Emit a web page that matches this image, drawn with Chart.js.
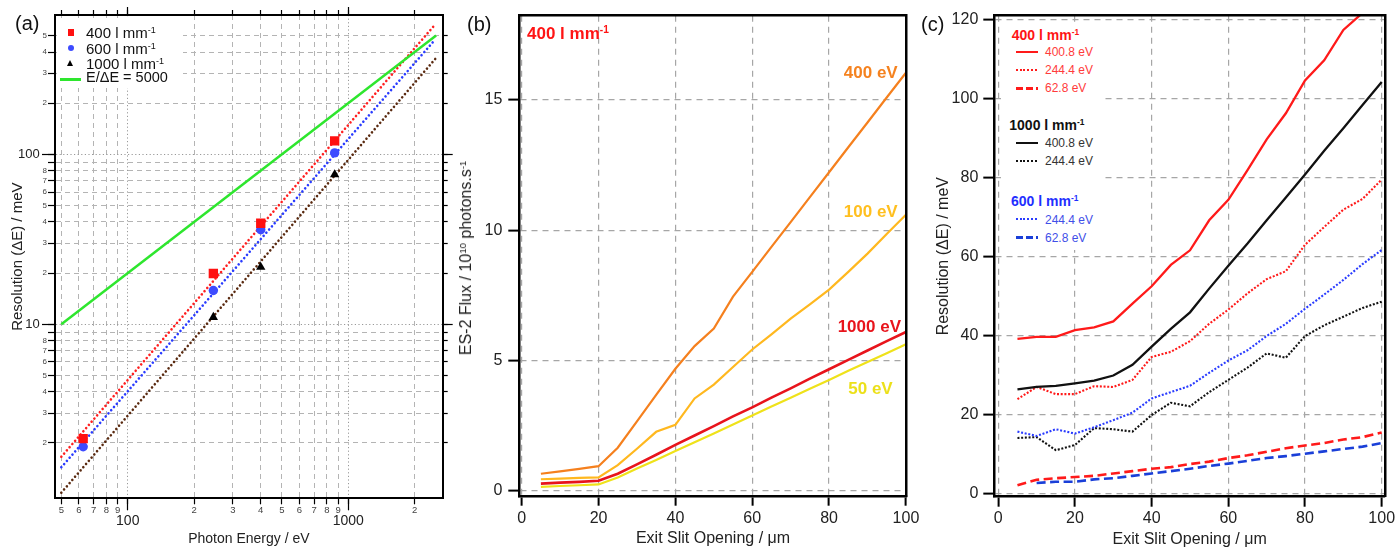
<!DOCTYPE html>
<html><head><meta charset="utf-8">
<script src="https://cdn.jsdelivr.net/npm/chart.js@4.4.0/dist/chart.umd.min.js"></script>
<style>
html,body{margin:0;padding:0;background:#fff;}
body{width:1397px;height:549px;position:relative;overflow:hidden;font-family:"Liberation Sans",Arial,Helvetica,sans-serif;}
canvas{position:absolute;top:0;}
.t{position:absolute;white-space:nowrap;line-height:1;}
.b{font-weight:bold;}
.sup{font-size:60%;position:relative;top:-0.55em;}
.box{position:absolute;background:#fff;}
.g{position:absolute;}
.rot{position:absolute;white-space:nowrap;line-height:1;transform:translate(-50%,-50%) rotate(-90deg);}
</style></head><body>
<canvas id="ca" width="470" height="549" style="left:0px"></canvas>
<canvas id="cb" width="475" height="549" style="left:455px"></canvas>
<canvas id="cc" width="480" height="549" style="left:930px"></canvas>

<!-- panel labels -->
<div class="t" style="left:15px;top:13px;font-size:20px;color:#111">(a)</div>
<div class="t" style="left:467px;top:14px;font-size:20px;color:#111">(b)</div>
<div class="t" style="left:921px;top:14px;font-size:20px;color:#111">(c)</div>

<!-- y axis title (b) with real superscripts -->
<div class="rot" style="left:466px;top:258px;font-size:16px;color:#222">ES-2 Flux / 10<span class="sup">10</span> photons.s<span class="sup">-1</span></div>

<!-- legend (a) -->
<div class="box" style="left:57px;top:18px;width:126px;height:70px;"></div>
<div class="g" style="left:67.7px;top:29px;width:6.6px;height:6.6px;background:#ff1010"></div>
<div class="g" style="left:67.8px;top:45.1px;width:6.4px;height:6.4px;border-radius:50%;background:#3d4bff"></div>
<div class="g" style="left:67.4px;top:59.8px;width:0;height:0;border-left:3.6px solid transparent;border-right:3.6px solid transparent;border-bottom:6.6px solid #000"></div>
<div class="g" style="left:60px;top:78px;width:21px;height:2.5px;background:#2ee62e"></div>
<div class="t" style="left:86px;top:25px;font-size:15px;color:#111">400 l mm<span class="sup">-1</span></div>
<div class="t" style="left:86px;top:41px;font-size:15px;color:#111">600 l mm<span class="sup">-1</span></div>
<div class="t" style="left:86px;top:56px;font-size:15px;color:#111">1000 l mm<span class="sup">-1</span></div>
<div class="t" style="left:86px;top:70.2px;font-size:14.5px;color:#111">E/ΔE = 5000</div>

<!-- annotations (b) -->
<div class="t b" style="left:527px;top:25px;font-size:17px;color:#ff1414">400 l mm<span class="sup">-1</span></div>
<div class="t b" style="right:499.3px;top:64.2px;font-size:17px;color:#f5821f">400 eV</div>
<div class="t b" style="right:499.3px;top:203px;font-size:17px;color:#ffbf1f">100 eV</div>
<div class="t b" style="right:496px;top:318px;font-size:17px;color:#e8141c">1000 eV</div>
<div class="t b" style="right:504.3px;top:379.8px;font-size:17px;color:#ece01a">50 eV</div>

<!-- legend (c) -->
<div class="box" style="left:1001px;top:24px;width:104px;height:226px;"></div>
<div class="t b" style="left:1011.7px;top:28.1px;font-size:14px;color:#ff1414">400 l mm<span class="sup">-1</span></div>
<div class="g" style="left:1016px;top:50.5px;width:22px;height:2.3px;background:#ff1a1a"></div>
<div class="t" style="left:1045px;top:45.8px;font-size:12px;color:#ff3b3b">400.8 eV</div>
<div class="g" style="left:1016px;top:69px;width:22px;height:2.1px;background:repeating-linear-gradient(90deg,#ff1a1a 0 2px,transparent 2px 3.7px)"></div>
<div class="t" style="left:1045px;top:64.1px;font-size:12px;color:#ff3b3b">244.4 eV</div>
<div class="g" style="left:1016px;top:87px;width:22px;height:2.6px;background:repeating-linear-gradient(90deg,#ff1a1a 0 7px,transparent 7px 10px)"></div>
<div class="t" style="left:1045px;top:82.4px;font-size:12px;color:#ff3b3b">62.8 eV</div>

<div class="t b" style="left:1009.3px;top:118.1px;font-size:14px;color:#111">1000 l mm<span class="sup">-1</span></div>
<div class="g" style="left:1016px;top:141.5px;width:22px;height:2.3px;background:#111"></div>
<div class="t" style="left:1045px;top:136.8px;font-size:12px;color:#333">400.8 eV</div>
<div class="g" style="left:1016px;top:159.5px;width:22px;height:2.1px;background:repeating-linear-gradient(90deg,#111 0 2px,transparent 2px 3.7px)"></div>
<div class="t" style="left:1045px;top:154.6px;font-size:12px;color:#333">244.4 eV</div>

<div class="t b" style="left:1011px;top:193.9px;font-size:14px;color:#1f2fff">600 l mm<span class="sup">-1</span></div>
<div class="g" style="left:1016px;top:218.4px;width:22px;height:2.1px;background:repeating-linear-gradient(90deg,#2a3cff 0 2px,transparent 2px 3.7px)"></div>
<div class="t" style="left:1045px;top:213.5px;font-size:12px;color:#3f4fe8">244.4 eV</div>
<div class="g" style="left:1016px;top:236.4px;width:22px;height:2.6px;background:repeating-linear-gradient(90deg,#1a3fd8 0 7px,transparent 7px 10px)"></div>
<div class="t" style="left:1045px;top:231.8px;font-size:12px;color:#3f4fe8">62.8 eV</div>

<script>
// ---------- Panel (a): resolution vs photon energy (log-log) ----------
const A_E_400 = [62.8, 244.4, 400.8, 867];
const A_DE_400 = [2.12, 19.9, 39.3, 120];
const A_E_600 = [62.8, 244.4, 400.8, 867];
const A_DE_600 = [1.9, 15.8, 36, 102];
const A_E_1000 = [244.4, 400.8, 867];
const A_DE_1000 = [11.0, 21.7, 76];
const A_FIT_E = [50, 2480];
const A_FIT_400 = [1.66, 583];
const A_FIT_600 = [1.44, 475];
const A_FIT_1000 = [1.02, 365];
const A_RP_E = [50, 2500];
const A_RP_DE = [10, 500];
const A_X_RANGE = [46.8, 2678];
const A_Y_RANGE = [0.945, 661];
const A_X_TICKS = [50,60,70,80,90,100,200,300,400,500,600,700,800,900,1000,2000];
const A_X_LABELS = ['5','6','7','8','9','100','2','3','4','5','6','7','8','9','1000','2'];
const A_X_MAJOR = [100, 1000];
const A_Y_TICKS = [2,3,4,5,6,7,8,9,10,20,30,40,50,60,70,80,90,100,200,300,400,500];
const A_Y_LABELS = ['2','3','4','5','6','7','8','','10','2','3','4','5','6','7','8','','100','2','3','4','5'];
const A_Y_MAJOR = [10, 100];

// ---------- Panel (b): flux vs exit slit ----------
const B_SLIT = [5,10,15,20,25,30,35,40,45,50,55,60,65,70,75,80,85,90,95,100];
const B_400EV = [0.65,0.74,0.84,0.94,1.65,2.66,3.68,4.68,5.55,6.22,7.45,8.40,9.36,10.31,11.27,12.22,13.18,14.13,15.09,16.04];
const B_100EV = [0.44,0.46,0.49,0.51,0.98,1.61,2.26,2.53,3.54,4.07,4.75,5.42,6.0,6.6,7.15,7.72,8.4,9.1,9.85,10.59];
const B_1000EV = [0.27,0.31,0.34,0.38,0.65,1.01,1.38,1.76,2.12,2.48,2.85,3.2,3.57,3.93,4.3,4.66,5.02,5.38,5.74,6.09];
const B_50EV = [0.15,0.18,0.21,0.24,0.51,0.85,1.18,1.52,1.86,2.2,2.54,2.89,3.23,3.57,3.91,4.25,4.6,4.94,5.28,5.62];
const B_X_RANGE = [-0.62, 100.2];
const B_Y_RANGE = [-0.23, 18.23];
const B_X_TICKS = [0,20,40,60,80,100];
const B_X_LABELS = ['0','20','40','60','80','100'];
const B_Y_TICKS = [0,5,10,15];
const B_Y_LABELS = ['0','5','10','15'];

// ---------- Panel (c): resolution vs exit slit ----------
const C_SLIT = [5,10,15,20,25,30,35,40,45,50,55,60,65,70,75,80,85,90,95,100];
const C_400_4008 = [39.3,39.8,39.8,41.5,42.2,43.7,48.2,52.6,58,61.7,69.3,74.5,82,89.8,96.4,104.7,109.8,117.5,121.8,null];
const C_400_2444 = [24,27.1,25.3,25.3,27.3,27.1,28.9,34.7,36,38.7,43.1,46.7,50.8,54.4,56.4,63.1,67.6,72,74.7,79.6];
const C_400_628 = [2.2,3.6,4,4.3,4.6,5.2,5.8,6.4,6.8,7.6,8.2,9.1,9.8,10.7,11.6,12.3,12.9,13.8,14.4,15.6];
const C_1000_4008 = [26.5,27.1,27.4,28,28.7,30,32.7,37.3,41.8,46,52,57.8,63.4,69.3,75.1,80.9,86.9,92.6,98.5,104.3];
const C_1000_2444 = [14.2,14.4,11.1,12.4,16.7,16.4,15.8,20,23.1,22.2,25.8,28.9,32,35.6,34.5,40,42.7,44.9,47.1,48.7];
const C_600_2444 = [15.8,14.7,16.4,15.3,16.9,18.7,20.6,24.2,25.8,27.4,30.7,33.8,36.4,40,43.1,46.9,50.5,54.2,58.2,61.8];
const C_600_628 = [null,2.8,3.1,3.1,3.7,4,4.6,5.2,5.8,6.4,7.1,7.7,8.4,9.1,9.6,10.2,10.8,11.4,12,12.9];
const C_X_RANGE = [-1.04, 100.86];
const C_Y_RANGE = [-0.68, 121.1];
const C_X_TICKS = [0,20,40,60,80,100];
const C_X_LABELS = ['0','20','40','60','80','100'];
const C_Y_TICKS = [0,20,40,60,80,100,120];
const C_Y_LABELS = ['0','20','40','60','80','100','120'];

const FONT = '"Liberation Sans", Arial, Helvetica, sans-serif';
Chart.defaults.font.family = FONT;
Chart.defaults.color = '#222';

function pts(xs, ys){ return xs.map((x,i)=>({x:x, y:ys[i]})); }
function fixTicks(list){ return function(s){ s.ticks = list.map(v=>({value:v})); }; }
function fixW(w){ return function(s){ s.width = w; }; }
function fixH(h){ return function(s){ s.height = h; }; }
function isMaj(list){ return c => !!(c.tick && list.includes(c.tick.value)); }

const baseOpts = (padding) => ({
  responsive:false, animation:false, devicePixelRatio:1, events:[],
  layout:{padding:padding},
  plugins:{legend:{display:false}, tooltip:{enabled:false}}
});

// aux axis (no labels, only tick marks / border)
function auxAxis(type, pos, range, ticks, len, weight, border, bw){
  return {type:type, position:pos, bounds:'data', min:range[0], max:range[1], weight:weight,
    afterBuildTicks:fixTicks(ticks),
    afterFit:(pos==='top'||pos==='bottom')?fixH(0):fixW(0),
    grid:{display:len>0, drawOnChartArea:false, tickLength:len, tickColor:'#000', tickWidth:1.2},
    border:{display:border, color:'#000', width:bw, z:1},
    ticks:{display:false}};
}

// ---- chart (a)
const aMajX = isMaj(A_X_MAJOR), aMajY = isMaj(A_Y_MAJOR);
new Chart(document.getElementById('ca'), {
  type:'scatter',
  data:{datasets:[
    {data:pts(A_E_400,A_DE_400), pointStyle:'rect', pointRadius:6.6, backgroundColor:'#ff1010', borderWidth:0, showLine:false},
    {data:pts(A_E_600,A_DE_600), pointStyle:'circle', pointRadius:4.7, backgroundColor:'#3d4bff', borderWidth:0, showLine:false},
    {data:pts(A_E_1000,A_DE_1000), pointStyle:'triangle', pointRadius:5.4, backgroundColor:'#000', borderWidth:0, showLine:false},
    {data:pts(A_RP_E,A_RP_DE), showLine:true, borderColor:'#2ee62e', borderWidth:2.5, pointRadius:0},
    {data:pts(A_FIT_E,A_FIT_400), showLine:true, borderColor:'#ff2020', borderWidth:2.6, borderDash:[0.01,4.2], borderCapStyle:'round', pointRadius:0},
    {data:pts(A_FIT_E,A_FIT_600), showLine:true, borderColor:'#2a3cff', borderWidth:2.6, borderDash:[0.01,4.2], borderCapStyle:'round', pointRadius:0},
    {data:pts(A_FIT_E,A_FIT_1000), showLine:true, borderColor:'#5a2a10', borderWidth:2.6, borderDash:[0.01,4.2], borderCapStyle:'round', pointRadius:0}
  ]},
  options:Object.assign(baseOpts({left:0, top:15, right:27.3, bottom:0}), {scales:{
    x:{type:'logarithmic', position:'bottom', bounds:'data', min:A_X_RANGE[0], max:A_X_RANGE[1],
      afterBuildTicks:fixTicks(A_X_TICKS), afterFit:fixH(50.7),
      grid:{color:c=>aMajX(c)?'#999':'#b4b4b4', lineWidth:1, tickLength:6, tickColor:'#000', tickWidth:1.2, tickBorderDash:[]},
      border:{display:true, color:'#000', width:2, z:1, dash:c=>aMajX(c)?[1.2,2.4]:[5,4]},
      ticks:{autoSkip:false, maxRotation:0, minRotation:0, padding:0,
        color:c=>aMajX(c)?'#222':'#444',
        font:c=>aMajX(c)?{size:14, lineHeight:0.8}:{size:9.5},
        callback:(v,i)=>A_X_MAJOR.includes(v)?['',A_X_LABELS[i]]:A_X_LABELS[i]},
      title:{display:true, text:'Photon Energy / eV', color:'#222', font:{size:14}, padding:{top:0,bottom:1.3}}},
    xM:auxAxis('logarithmic','bottom',A_X_RANGE,A_X_MAJOR,12,-1,false,0),
    xT:auxAxis('logarithmic','top',A_X_RANGE,A_X_TICKS,5,0,true,2),
    xTM:auxAxis('logarithmic','top',A_X_RANGE,A_X_MAJOR,8,-1,false,0),
    y:{type:'logarithmic', position:'left', bounds:'data', min:A_Y_RANGE[0], max:A_Y_RANGE[1],
      afterBuildTicks:fixTicks(A_Y_TICKS), afterFit:fixW(55),
      grid:{color:c=>aMajY(c)?'#999':'#b4b4b4', lineWidth:1, tickLength:7, tickColor:'#000', tickWidth:1.2, tickBorderDash:[]},
      border:{display:true, color:'#000', width:2, z:1, dash:c=>aMajY(c)?[1.2,2.4]:[5,4]},
      ticks:{autoSkip:false, padding:1,
        color:c=>aMajY(c)?'#222':'#444',
        font:c=>aMajY(c)?{size:13}:{size:8},
        callback:(v,i)=>A_Y_MAJOR.includes(v)?(A_Y_LABELS[i]+'  '):A_Y_LABELS[i]},
      title:{display:true, text:'Resolution (ΔE) / meV', color:'#222', font:{size:15}, padding:{top:8.5,bottom:0}}},
    yM:auxAxis('logarithmic','left',A_Y_RANGE,A_Y_MAJOR,13,-1,false,0),
    yR:auxAxis('logarithmic','right',A_Y_RANGE,A_Y_TICKS,5,0,true,2),
    yRM:auxAxis('logarithmic','right',A_Y_RANGE,A_Y_MAJOR,10,-1,false,0)
  }})
});

// ---- axes helpers for (b) and (c)
function linX(range, ticks, labels, h, tl, pad, title, tpadB){
  return {type:'linear', position:'bottom', bounds:'data', min:range[0], max:range[1],
    afterBuildTicks:fixTicks(ticks), afterFit:fixH(h),
    grid:{color:'#a6a6a6', lineWidth:1.2, tickLength:tl, tickColor:'#000', tickWidth:2, tickBorderDash:[]},
    border:{display:true, color:'#000', width:2.5, z:1, dash:[6,5]},
    ticks:{autoSkip:false, maxRotation:0, minRotation:0, padding:pad, color:'#222', font:{size:16},
      callback:(v,i)=>labels[i]},
    title:{display:true, text:title, color:'#222', font:{size:16}, padding:{top:0,bottom:tpadB}}};
}
function linY(range, ticks, labels, w, tl, pad, title, tpadT){
  return {type:'linear', position:'left', bounds:'data', min:range[0], max:range[1],
    afterBuildTicks:fixTicks(ticks), afterFit:fixW(w),
    grid:{color:'#a6a6a6', lineWidth:1.2, tickLength:tl, tickColor:'#000', tickWidth:2, tickBorderDash:[]},
    border:{display:true, color:'#000', width:2.5, z:1, dash:[6,5]},
    ticks:{autoSkip:false, padding:pad, color:'#222', font:{size:16},
      callback:(v,i)=>labels[i]},
    title:{display:!!title, text:title||'', color:'#222', font:{size:16}, padding:{top:tpadT,bottom:0}}};
}

// ---- chart (b)
new Chart(document.getElementById('cb'), {
  type:'scatter',
  data:{datasets:[
    {data:pts(B_SLIT,B_1000EV), showLine:true, borderColor:'#e8141c', borderWidth:2.6, pointRadius:0},
    {data:pts(B_SLIT,B_50EV), showLine:true, borderColor:'#efe21a', borderWidth:2.2, pointRadius:0},
    {data:pts(B_SLIT,B_100EV), showLine:true, borderColor:'#ffb81f', borderWidth:2.2, pointRadius:0},
    {data:pts(B_SLIT,B_400EV), showLine:true, borderColor:'#f5801e', borderWidth:2.2, pointRadius:0}
  ]},
  options:Object.assign(baseOpts({left:0, top:15.7, right:23.3, bottom:0}), {scales:{
    x:linX(B_X_RANGE,B_X_TICKS,B_X_LABELS,52.3,9,3,'Exit Slit Opening / μm',1.1),
    y:linY(B_Y_RANGE,B_Y_TICKS,B_Y_LABELS,64.3,11,6,'',0),
    xT:auxAxis('linear','top',B_X_RANGE,B_X_TICKS,0,0,true,2.5),
    yR:auxAxis('linear','right',B_Y_RANGE,B_Y_TICKS,0,0,true,2.5)
  }})
});

// ---- chart (c)
const DOT = [2,1.7], DASH = [9,4.5];
new Chart(document.getElementById('cc'), {
  type:'scatter',
  data:{datasets:[
    {data:pts(C_SLIT,C_400_4008), showLine:true, borderColor:'#ff1a1a', borderWidth:2.3, pointRadius:0},
    {data:pts(C_SLIT,C_1000_4008), showLine:true, borderColor:'#111', borderWidth:2.3, pointRadius:0},
    {data:pts(C_SLIT,C_400_2444), showLine:true, borderColor:'#ff1a1a', borderWidth:2.1, borderDash:DOT, pointRadius:0},
    {data:pts(C_SLIT,C_600_2444), showLine:true, borderColor:'#2a3cff', borderWidth:2.1, borderDash:DOT, pointRadius:0},
    {data:pts(C_SLIT,C_1000_2444), showLine:true, borderColor:'#111', borderWidth:2.1, borderDash:DOT, pointRadius:0},
    {data:pts(C_SLIT,C_400_628), showLine:true, borderColor:'#ff1a1a', borderWidth:2.6, borderDash:DASH, pointRadius:0},
    {data:pts(C_SLIT,C_600_628), showLine:true, borderColor:'#1a3fd8', borderWidth:2.6, borderDash:DASH, pointRadius:0}
  ]},
  options:Object.assign(baseOpts({left:0, top:15.7, right:25, bottom:0}), {scales:{
    x:linX(C_X_RANGE,C_X_TICKS,C_X_LABELS,52.3,10,2,'Exit Slit Opening / μm',0),
    y:linY(C_Y_RANGE,C_Y_TICKS,C_Y_LABELS,64.3,11,5,'Resolution (ΔE) / meV',3.7),
    xT:auxAxis('linear','top',C_X_RANGE,C_X_TICKS,0,0,true,2.5),
    yR:auxAxis('linear','right',C_Y_RANGE,C_Y_TICKS,0,0,true,2.5)
  }})
});
</script>
</body></html>
